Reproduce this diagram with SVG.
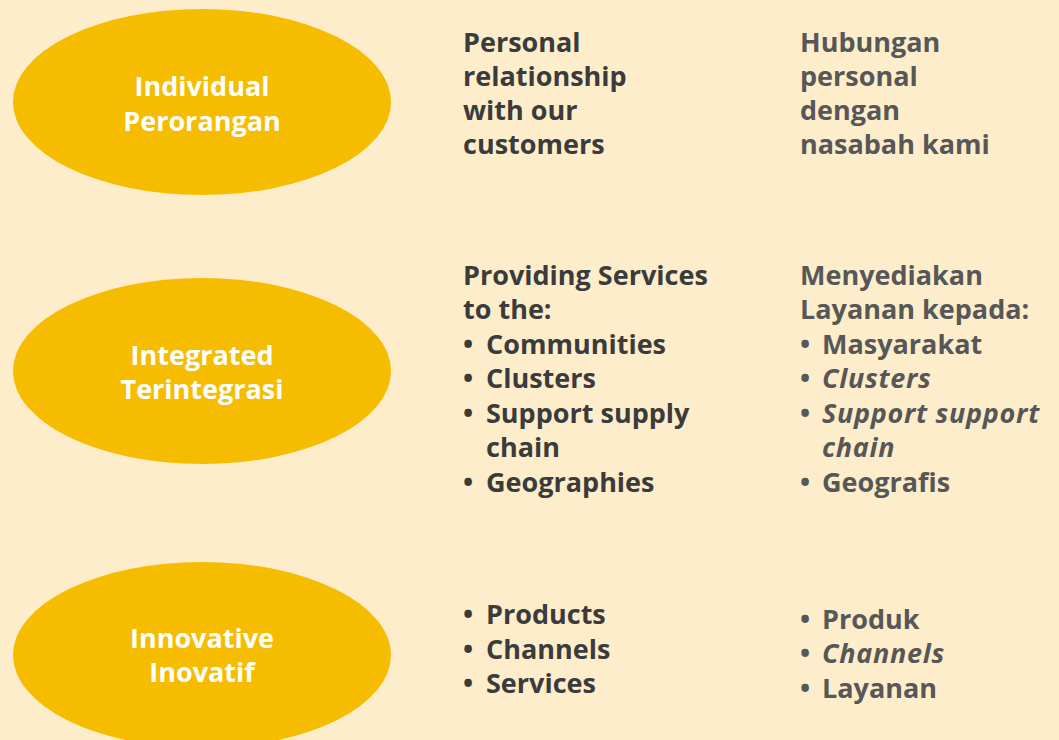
<svg xmlns="http://www.w3.org/2000/svg" width="1059" height="740" viewBox="0 0 1059 740">
  <style>
    .pill { fill: #F6BC00; }
    .t { font-family: "Open Sans", "Noto Sans", "Liberation Sans", sans-serif; font-weight: 700; font-size: 27px; }
    .in { fill: #ffffff; text-anchor: middle; }
    .en { fill: #3b3b3b; }
    .id { fill: #575757; }
    .it { font-style: italic; letter-spacing: 0.7px; }
  </style>
  <rect width="1059" height="740" fill="#FDEDCB"/>

  <!-- ellipse nodes -->
  <g id="node-individual">
    <ellipse class="pill" cx="202" cy="102" rx="189" ry="93"/>
    <text class="t in" x="202" y="96">Individual</text>
    <text class="t in" x="202" y="131">Perorangan</text>
  </g>
  <g id="node-integrated">
    <ellipse class="pill" cx="202" cy="371" rx="189" ry="93"/>
    <text class="t in" x="202" y="365">Integrated</text>
    <text class="t in" x="202" y="399">Terintegrasi</text>
  </g>
  <g id="node-innovative">
    <ellipse class="pill" cx="202" cy="655" rx="189" ry="93"/>
    <text class="t in" x="202" y="648">Innovative</text>
    <text class="t in" x="202" y="682">Inovatif</text>
  </g>

  <g id="connectors"></g>

  <!-- descriptions, English -->
  <g id="desc-en" class="t en">
    <text x="463" y="52">Personal</text>
    <text x="463" y="86">relationship</text>
    <text x="463" y="120">with our</text>
    <text x="463" y="154">customers</text>

    <text x="463" y="285">Providing Services</text>
    <text x="463" y="319">to the:</text>
    <text x="463" y="354">•</text><text x="486" y="354">Communities</text>
    <text x="463" y="388">•</text><text x="486" y="388">Clusters</text>
    <text x="463" y="423">•</text><text x="486" y="423">Support supply</text>
    <text x="486" y="457">chain</text>
    <text x="463" y="492">•</text><text x="486" y="492">Geographies</text>

    <text x="463" y="624">•</text><text x="486" y="624">Products</text>
    <text x="463" y="659">•</text><text x="486" y="659">Channels</text>
    <text x="463" y="693">•</text><text x="486" y="693">Services</text>
  </g>

  <!-- descriptions, Indonesian -->
  <g id="desc-id" class="t id">
    <text x="800" y="52">Hubungan</text>
    <text x="800" y="86">personal</text>
    <text x="800" y="120">dengan</text>
    <text x="800" y="154">nasabah kami</text>

    <text x="800" y="285">Menyediakan</text>
    <text x="800" y="319">Layanan kepada:</text>
    <text x="800" y="354">•</text><text x="822" y="354">Masyarakat</text>
    <text x="800" y="388">•</text><text class="it" x="822" y="388">Clusters</text>
    <text x="800" y="423">•</text><text class="it" x="822" y="423">Support support</text>
    <text class="it" x="822" y="457">chain</text>
    <text x="800" y="492">•</text><text x="822" y="492">Geografis</text>

    <text x="800" y="629">•</text><text x="822" y="629">Produk</text>
    <text x="800" y="663">•</text><text class="it" x="822" y="663">Channels</text>
    <text x="800" y="698">•</text><text x="822" y="698">Layanan</text>
  </g>
</svg>
